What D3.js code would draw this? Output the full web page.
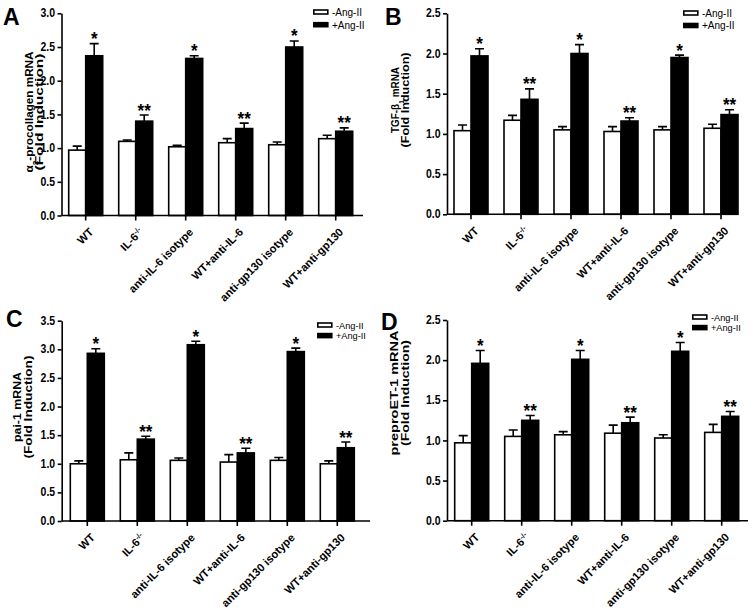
<!DOCTYPE html>
<html><head><meta charset="utf-8">
<script src="https://cdn.jsdelivr.net/npm/d3@7"></script>
<style>body{margin:0;background:#fff} svg text{font-family:Arial,"Liberation Sans",sans-serif;}</style>
</head><body><svg id="chart" width="755" height="613"></svg>
<script>
// ---------- data ----------
const categories = ["WT", "IL-6-/-", "anti-IL-6 isotype", "WT+anti-IL-6", "anti-gp130 isotype", "WT+anti-gp130"];
const seriesNames = ["-Ang-II", "+Ang-II"];
const plusMarks = ["*", "**", "*", "**", "*", "**"];

const aMinus    = [0.97, 1.10, 1.02, 1.08, 1.05, 1.14];
const aMinusErr = [0.06, 0.02, 0.02, 0.06, 0.04, 0.05];
const aPlus     = [2.37, 1.40, 2.33, 1.29, 2.50, 1.25];
const aPlusErr  = [0.18, 0.09, 0.04, 0.08, 0.09, 0.05];
const aTicks    = [0.0, 0.5, 1.0, 1.5, 2.0, 2.5, 3.0];

const bMinus    = [1.04, 1.17, 1.05, 1.03, 1.05, 1.07];
const bMinusErr = [0.07, 0.06, 0.04, 0.06, 0.04, 0.05];
const bPlus     = [1.97, 1.43, 2.00, 1.16, 1.95, 1.24];
const bPlusErr  = [0.09, 0.13, 0.11, 0.04, 0.03, 0.06];
const bTicks    = [0.0, 0.5, 1.0, 1.5, 2.0, 2.5];

const cMinus    = [1.00, 1.07, 1.06, 1.03, 1.06, 1.00];
const cMinusErr = [0.05, 0.12, 0.04, 0.13, 0.05, 0.05];
const cPlus     = [2.93, 1.43, 3.08, 1.19, 2.96, 1.28];
const cPlusErr  = [0.08, 0.05, 0.06, 0.08, 0.06, 0.10];
const cTicks    = [0.0, 0.5, 1.0, 1.5, 2.0, 2.5, 3.0, 3.5];

const dMinus    = [0.97, 1.05, 1.07, 1.09, 1.03, 1.10];
const dMinusErr = [0.09, 0.08, 0.04, 0.10, 0.04, 0.10];
const dPlus     = [1.96, 1.25, 2.01, 1.22, 2.11, 1.30];
const dPlusErr  = [0.16, 0.06, 0.11, 0.07, 0.11, 0.06];
const dTicks    = [0.0, 0.5, 1.0, 1.5, 2.0, 2.5];

// ---------- layout ----------
const K = 1.3; // vertical stretch of the original figure's tick text
const panels = [
  {letter:"A", minus:aMinus, minusErr:aMinusErr, plus:aPlus, plusErr:aPlusErr, ticks:aTicks,
   axisX:61.5, yTop:13.3, yBot:215.5, c0:85.7, xEnd:363,
   letterPos:[3,25], legend:[313,10], legGap:12.7, legFont:10,
   title:{x1:33, x2:43, cy:112, f:11, L1:121, L2:117, kind:"A"}},
  {letter:"B", minus:bMinus, minusErr:bMinusErr, plus:bPlus, plusErr:bPlusErr, ticks:bTicks,
   axisX:447, yTop:13.3, yBot:214.3, c0:471, xEnd:735,
   letterPos:[385,25], legend:[683,11], legGap:12.5, legFont:10,
   title:{x1:399, x2:409, cy:100, f:10.5, L1:66, L2:95, kind:"B"}},
  {letter:"C", minus:cMinus, minusErr:cMinusErr, plus:cPlus, plusErr:cPlusErr, ticks:cTicks,
   axisX:61.7, yTop:320.7, yBot:521, c0:87.3, xEnd:370,
   letterPos:[6,327], legend:[317,323], legGap:10.6, legFont:9.2,
   title:{x1:21, x2:32, cy:407, f:10.5, L1:70, L2:103, kind:"C"}},
  {letter:"D", minus:dMinus, minusErr:dMinusErr, plus:dPlus, plusErr:dPlusErr, ticks:dTicks,
   axisX:447, yTop:320, yBot:520.7, c0:471.7, xEnd:748,
   letterPos:[381,330], legend:[692,315], legGap:10.6, legFont:9.2,
   title:{x1:398, x2:409, cy:393, f:11.2, L1:125, L2:106, kind:"D"}}
];

const svg = d3.select("#chart");
const SW = 1.6;

function titleLine1(t, kind) {
  if (kind === "A") {
    t.append("tspan").text("α");
    t.append("tspan").attr("baseline-shift", "sub").attr("font-size", "70%").text("2");
    t.append("tspan").text("-procollagen mRNA");
  } else if (kind === "B") {
    t.append("tspan").text("TGF-β");
    t.append("tspan").attr("baseline-shift", "sub").attr("font-size", "70%").text("1");
    t.append("tspan").text(" mRNA");
  } else if (kind === "C") {
    t.text("pai-1 mRNA");
  } else {
    t.text("preproET-1 mRNA");
  }
}

panels.forEach(p => {
  const g = svg.append("g");
  const y = d3.scaleLinear().domain([0, d3.max(p.ticks)]).range([p.yBot, p.yTop]);
  const x = d3.scaleBand().domain(categories).range([p.c0 - 25, p.c0 - 25 + 50 * categories.length]);
  const xs = d3.scaleBand().domain(seriesNames).range([8, 42]);

  const rows = categories.map((c, i) => ({c, i,
    vals: [{s: seriesNames[0], v: p.minus[i], e: p.minusErr[i]},
           {s: seriesNames[1], v: p.plus[i], e: p.plusErr[i]}]}));

  const grp = g.selectAll("g.grp").data(rows).join("g").attr("class", "grp")
    .attr("transform", d => `translate(${x(d.c)},0)`);
  grp.selectAll("path.err").data(d => d.vals).join("path").attr("class", "err")
    .attr("d", d => {
      const cx = xs(d.s) + xs.bandwidth() / 2;
      return `M${cx},${y(d.v)}V${y(d.v + d.e)}M${cx - 4.5},${y(d.v + d.e)}H${cx + 4.5}`;
    })
    .attr("stroke", "#000").attr("stroke-width", SW).attr("fill", "none");
  grp.selectAll("rect.bar").data(d => d.vals).join("rect").attr("class", "bar")
    .attr("x", d => xs(d.s)).attr("width", xs.bandwidth())
    .attr("y", d => y(d.v)).attr("height", d => y(0) - y(d.v))
    .attr("fill", d => d.s === seriesNames[0] ? "#fff" : "#000")
    .attr("stroke", "#000").attr("stroke-width", SW);

  // significance marks
  grp.append("text")
    .attr("transform", d => `translate(${xs(seriesNames[1]) + xs.bandwidth() / 2},${y(d.vals[1].v + d.vals[1].e) + 1.5}) scale(1,1.1)`)
    .attr("text-anchor", "middle").attr("font-weight", "bold").attr("font-size", 17)
    .text(d => plusMarks[d.i]);

  // y axis
  const ya = g.append("g").attr("transform", `translate(${p.axisX},0)`)
    .call(d3.axisLeft(y).tickValues(p.ticks).tickSize(4).tickSizeOuter(0).tickFormat(d3.format(".1f")));
  ya.attr("font-family", null).attr("font-size", null);
  ya.select(".domain").attr("stroke-width", SW);
  ya.selectAll(".tick line").attr("stroke-width", SW);
  ya.selectAll(".tick text").each(function() {
    d3.select(this).attr("x", null).attr("dy", null).attr("font-size", 10.5).attr("font-weight", "bold")
      .attr("fill", "#000").attr("transform", `translate(-6.5,3.6) scale(1,${K})`);
  });

  // x axis
  const xa = g.append("g").attr("transform", `translate(0,${p.yBot})`)
    .call(d3.axisBottom(x).tickSize(5).tickSizeOuter(0));
  xa.attr("font-family", null).attr("font-size", null);
  xa.select(".domain").remove();
  xa.append("line").attr("x1", p.axisX).attr("x2", p.xEnd).attr("stroke", "#000").attr("stroke-width", SW);
  xa.selectAll(".tick line").attr("stroke-width", SW);
  xa.selectAll(".tick text").each(function(d) {
    const t = d3.select(this);
    t.text(null).attr("y", null)
      .attr("text-anchor", "end").attr("font-size", 11.2).attr("font-weight", "bold").attr("fill", "#000")
      .attr("transform", `translate(5.5,14.5) rotate(-45)`)
      .attr("dy", "0.35em");
    if (d === "IL-6-/-") {
      t.append("tspan").text("IL-6");
      t.append("tspan").attr("baseline-shift", "super").attr("font-size", "65%").text("-/-");
    } else {
      t.text(d);
    }
  });

  // y title (two lines)
  const tl1 = g.append("text").attr("text-anchor", "middle").attr("font-weight", "bold")
    .attr("font-size", p.title.f).attr("textLength", p.title.L1).attr("lengthAdjust", "spacingAndGlyphs")
    .attr("transform", `translate(${p.title.x1},${p.title.cy}) rotate(-90)`);
  titleLine1(tl1, p.title.kind);
  g.append("text").attr("text-anchor", "middle").attr("font-weight", "bold")
    .attr("font-size", p.title.f).attr("textLength", p.title.L2).attr("lengthAdjust", "spacingAndGlyphs")
    .attr("transform", `translate(${p.title.x2},${p.title.cy}) rotate(-90)`)
    .text("(Fold Induction)");

  // panel letter
  g.append("text").attr("x", p.letterPos[0]).attr("y", p.letterPos[1])
    .attr("font-weight", "bold").attr("font-size", 23).text(p.letter);

  // legend
  const lg = g.append("g").attr("transform", `translate(${p.legend[0]},${p.legend[1]})`);
  seriesNames.forEach((s, i) => {
    lg.append("rect").attr("x", 0.8).attr("y", i * p.legGap).attr("width", 14).attr("height", 4)
      .attr("fill", i === 0 ? "#fff" : "#000").attr("stroke", "#000").attr("stroke-width", SW);
    lg.append("text").attr("x", 19).attr("y", i * p.legGap + 5.8)
      .attr("font-size", p.legFont).text(s);
  });
});
</script></body></html>
